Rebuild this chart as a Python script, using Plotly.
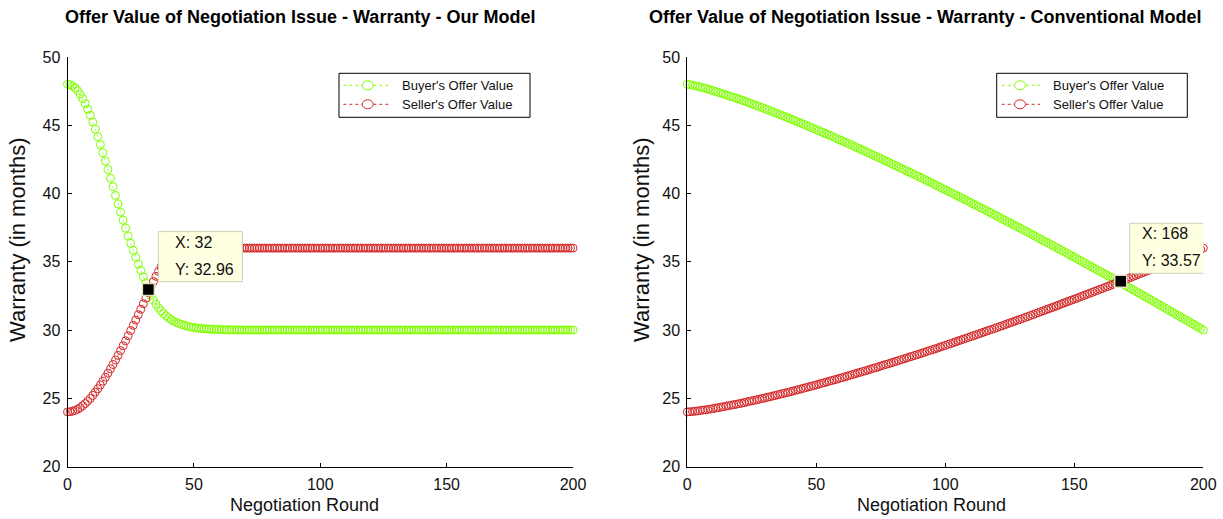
import plotly.graph_objects as go

# Negotiation rounds 0..200
rounds = list(range(201))

# "Our Model": buyer's and seller's warranty offers (months) per round
buyer_our = [
    48.00, 47.97, 47.88, 47.73, 47.53, 47.27, 46.95, 46.59, 46.18, 45.73,
    45.24, 44.71, 44.16, 43.58, 42.99, 42.37, 41.75, 41.12, 40.49, 39.86,
    39.24, 38.63, 38.04, 37.46, 36.89, 36.35, 35.83, 35.32, 34.83, 34.36,
    33.90, 33.43, 32.96, 32.55, 32.19, 31.89, 31.63, 31.41, 31.21, 31.04,
    30.89, 30.76, 30.65, 30.56, 30.48, 30.41, 30.35, 30.30, 30.25, 30.21,
    30.18, 30.15, 30.13, 30.11, 30.09, 30.08, 30.07, 30.06, 30.05, 30.04,
    30.03, 30.03, 30.02, 30.02, 30.01, 30.01, 30.01, 30.00, 30.00, 30.00,
    30.0, 30.0, 30.0, 30.0, 30.0, 30.0, 30.0, 30.0, 30.0, 30.0,
    30.0, 30.0, 30.0, 30.0, 30.0, 30.0, 30.0, 30.0, 30.0, 30.0,
    30.0, 30.0, 30.0, 30.0, 30.0, 30.0, 30.0, 30.0, 30.0, 30.0,
    30.0, 30.0, 30.0, 30.0, 30.0, 30.0, 30.0, 30.0, 30.0, 30.0,
    30.0, 30.0, 30.0, 30.0, 30.0, 30.0, 30.0, 30.0, 30.0, 30.0,
    30.0, 30.0, 30.0, 30.0, 30.0, 30.0, 30.0, 30.0, 30.0, 30.0,
    30.0, 30.0, 30.0, 30.0, 30.0, 30.0, 30.0, 30.0, 30.0, 30.0,
    30.0, 30.0, 30.0, 30.0, 30.0, 30.0, 30.0, 30.0, 30.0, 30.0,
    30.0, 30.0, 30.0, 30.0, 30.0, 30.0, 30.0, 30.0, 30.0, 30.0,
    30.0, 30.0, 30.0, 30.0, 30.0, 30.0, 30.0, 30.0, 30.0, 30.0,
    30.0, 30.0, 30.0, 30.0, 30.0, 30.0, 30.0, 30.0, 30.0, 30.0,
    30.0, 30.0, 30.0, 30.0, 30.0, 30.0, 30.0, 30.0, 30.0, 30.0,
    30.0, 30.0, 30.0, 30.0, 30.0, 30.0, 30.0, 30.0, 30.0, 30.0,
    30.0,
]
seller_our = [
    24.00, 24.01, 24.05, 24.11, 24.20, 24.31, 24.45, 24.61, 24.79, 24.99,
    25.21, 25.45, 25.70, 25.97, 26.25, 26.54, 26.84, 27.15, 27.47, 27.80,
    28.14, 28.49, 28.85, 29.21, 29.58, 29.96, 30.34, 30.73, 31.12, 31.52,
    31.92, 32.33, 32.74, 33.15, 33.55, 33.93, 34.29, 34.62, 34.91, 35.17,
    35.39, 35.57, 35.71, 35.82, 35.90, 35.95, 35.98, 35.99, 36.00, 36.00,
    36.0, 36.0, 36.0, 36.0, 36.0, 36.0, 36.0, 36.0, 36.0, 36.0,
    36.0, 36.0, 36.0, 36.0, 36.0, 36.0, 36.0, 36.0, 36.0, 36.0,
    36.0, 36.0, 36.0, 36.0, 36.0, 36.0, 36.0, 36.0, 36.0, 36.0,
    36.0, 36.0, 36.0, 36.0, 36.0, 36.0, 36.0, 36.0, 36.0, 36.0,
    36.0, 36.0, 36.0, 36.0, 36.0, 36.0, 36.0, 36.0, 36.0, 36.0,
    36.0, 36.0, 36.0, 36.0, 36.0, 36.0, 36.0, 36.0, 36.0, 36.0,
    36.0, 36.0, 36.0, 36.0, 36.0, 36.0, 36.0, 36.0, 36.0, 36.0,
    36.0, 36.0, 36.0, 36.0, 36.0, 36.0, 36.0, 36.0, 36.0, 36.0,
    36.0, 36.0, 36.0, 36.0, 36.0, 36.0, 36.0, 36.0, 36.0, 36.0,
    36.0, 36.0, 36.0, 36.0, 36.0, 36.0, 36.0, 36.0, 36.0, 36.0,
    36.0, 36.0, 36.0, 36.0, 36.0, 36.0, 36.0, 36.0, 36.0, 36.0,
    36.0, 36.0, 36.0, 36.0, 36.0, 36.0, 36.0, 36.0, 36.0, 36.0,
    36.0, 36.0, 36.0, 36.0, 36.0, 36.0, 36.0, 36.0, 36.0, 36.0,
    36.0, 36.0, 36.0, 36.0, 36.0, 36.0, 36.0, 36.0, 36.0, 36.0,
    36.0, 36.0, 36.0, 36.0, 36.0, 36.0, 36.0, 36.0, 36.0, 36.0,
    36.0,
]

# "Conventional Model": buyer's and seller's warranty offers (months) per round
buyer_conv = [
    48.00, 47.97, 47.93, 47.89, 47.85, 47.80, 47.75, 47.70, 47.65, 47.59,
    47.53, 47.47, 47.41, 47.35, 47.29, 47.23, 47.16, 47.10, 47.04, 46.98,
    46.92, 46.85, 46.78, 46.71, 46.64, 46.57, 46.50, 46.43, 46.36, 46.29,
    46.22, 46.15, 46.07, 46.00, 45.92, 45.85, 45.77, 45.70, 45.62, 45.55,
    45.47, 45.39, 45.31, 45.23, 45.15, 45.08, 45.00, 44.92, 44.84, 44.76,
    44.68, 44.60, 44.52, 44.43, 44.35, 44.27, 44.19, 44.11, 44.02, 43.94,
    43.86, 43.77, 43.69, 43.60, 43.52, 43.43, 43.34, 43.26, 43.17, 43.09,
    43.00, 42.91, 42.82, 42.73, 42.64, 42.56, 42.47, 42.38, 42.29, 42.20,
    42.11, 42.02, 41.93, 41.84, 41.75, 41.66, 41.57, 41.48, 41.39, 41.30,
    41.21, 41.12, 41.02, 40.93, 40.83, 40.74, 40.65, 40.55, 40.46, 40.36,
    40.27, 40.18, 40.08, 39.99, 39.89, 39.80, 39.70, 39.61, 39.51, 39.42,
    39.32, 39.22, 39.13, 39.03, 38.93, 38.84, 38.74, 38.64, 38.54, 38.45,
    38.35, 38.25, 38.15, 38.05, 37.95, 37.86, 37.76, 37.66, 37.56, 37.46,
    37.36, 37.26, 37.16, 37.06, 36.96, 36.86, 36.75, 36.65, 36.55, 36.45,
    36.35, 36.25, 36.15, 36.04, 35.94, 35.84, 35.74, 35.64, 35.53, 35.43,
    35.33, 35.23, 35.12, 35.02, 34.91, 34.81, 34.71, 34.60, 34.50, 34.39,
    34.29, 34.19, 34.08, 33.98, 33.87, 33.77, 33.66, 33.56, 33.45, 33.35,
    33.24, 33.13, 33.03, 32.92, 32.81, 32.71, 32.60, 32.49, 32.39, 32.28,
    32.17, 32.06, 31.95, 31.85, 31.74, 31.63, 31.52, 31.41, 31.31, 31.20,
    31.09, 30.98, 30.87, 30.76, 30.65, 30.55, 30.44, 30.33, 30.22, 30.11,
    30.00,
]
seller_conv = [
    24.00, 24.01, 24.03, 24.05, 24.07, 24.10, 24.13, 24.15, 24.18, 24.21,
    24.24, 24.28, 24.31, 24.35, 24.38, 24.42, 24.46, 24.49, 24.53, 24.56,
    24.60, 24.64, 24.68, 24.73, 24.77, 24.81, 24.85, 24.89, 24.94, 24.98,
    25.02, 25.07, 25.11, 25.16, 25.20, 25.25, 25.30, 25.34, 25.39, 25.43,
    25.48, 25.53, 25.58, 25.63, 25.68, 25.73, 25.78, 25.83, 25.88, 25.93,
    25.98, 26.03, 26.09, 26.14, 26.19, 26.25, 26.30, 26.35, 26.40, 26.46,
    26.51, 26.57, 26.62, 26.68, 26.73, 26.79, 26.85, 26.90, 26.96, 27.01,
    27.07, 27.13, 27.19, 27.24, 27.30, 27.36, 27.42, 27.48, 27.53, 27.59,
    27.65, 27.71, 27.77, 27.83, 27.89, 27.95, 28.01, 28.07, 28.13, 28.19,
    28.25, 28.31, 28.37, 28.44, 28.50, 28.56, 28.62, 28.68, 28.75, 28.81,
    28.87, 28.94, 29.00, 29.07, 29.13, 29.20, 29.26, 29.33, 29.39, 29.46,
    29.52, 29.59, 29.65, 29.72, 29.78, 29.85, 29.92, 29.98, 30.05, 30.11,
    30.18, 30.25, 30.31, 30.38, 30.45, 30.52, 30.58, 30.65, 30.72, 30.78,
    30.85, 30.92, 30.99, 31.06, 31.13, 31.20, 31.27, 31.34, 31.41, 31.48,
    31.55, 31.62, 31.69, 31.76, 31.83, 31.91, 31.98, 32.05, 32.12, 32.19,
    32.26, 32.33, 32.40, 32.48, 32.55, 32.62, 32.69, 32.76, 32.84, 32.91,
    32.98, 33.05, 33.13, 33.20, 33.27, 33.35, 33.42, 33.49, 33.57, 33.64,
    33.71, 33.79, 33.86, 33.94, 34.01, 34.09, 34.16, 34.24, 34.31, 34.39,
    34.46, 34.54, 34.61, 34.69, 34.77, 34.85, 34.92, 35.00, 35.08, 35.15,
    35.23, 35.31, 35.38, 35.46, 35.54, 35.62, 35.69, 35.77, 35.85, 35.92,
    36.00,
]

# Data tips (round index, series)
tip_our_round = 32
tip_our_value = buyer_our[tip_our_round]
tip_conv_round = 168
tip_conv_value = seller_conv[tip_conv_round]

titles = ["Offer Value of Negotiation Issue - Warranty - Our Model",
          "Offer Value of Negotiation Issue - Warranty - Conventional Model"]
x_title = "Negotiation Round"
y_title = "Warranty (in months)"
x_ticks = [0, 50, 100, 150, 200]
y_ticks = [20, 25, 30, 35, 40, 45, 50]
buyer_name = "Buyer's Offer Value"
seller_name = "Seller's Offer Value"

GREEN = "#80FF00"
RED = "#D42A2A"
FONT = "Liberation Sans, Arial, Helvetica, sans-serif"
W, H = 1223, 519

fig = go.Figure()


def add_series(xs, ys, name, color, xa, ya):
    fig.add_trace(go.Scatter(
        x=xs, y=ys, name=name, mode="lines+markers", showlegend=False,
        line=dict(color=color, width=0.6, dash="dot"),
        marker=dict(symbol="circle-open", size=8, color=color,
                    line=dict(color=color, width=1)),
        xaxis=xa, yaxis=ya, cliponaxis=False, hoverinfo="skip",
    ))


add_series(rounds, buyer_our, buyer_name, GREEN, "x", "y")
add_series(rounds, seller_our, seller_name, RED, "x", "y")
add_series(rounds, buyer_conv, buyer_name, GREEN, "x2", "y2")
add_series(rounds, seller_conv, seller_name, RED, "x2", "y2")

# Data-tip markers
for xr, yv, xa, ya in [(tip_our_round, tip_our_value, "x", "y"),
                       (tip_conv_round, tip_conv_value, "x2", "y2")]:
    fig.add_trace(go.Scatter(
        x=[xr], y=[yv], mode="markers", showlegend=False,
        marker=dict(symbol="square", size=12, color="black",
                    line=dict(color="#E6E2C0", width=1.5)),
        xaxis=xa, yaxis=ya, cliponaxis=False, hoverinfo="skip",
    ))

axis_common = dict(
    showline=True, linecolor="black", linewidth=1,
    ticks="inside", ticklen=4, tickcolor="black", tickwidth=1,
    showgrid=False, zeroline=False, mirror=False, automargin=False,
    ticklabelstandoff=3,
    tickfont=dict(family=FONT, size=16, color="#111"),
)
x_common = dict(axis_common, tickvals=x_ticks, range=[0, 200])
y_common = dict(axis_common, tickvals=y_ticks, range=[20, 50])

y_dom = [52.5 / H, 462 / H]
fig.update_layout(
    width=W, height=H, autosize=False,
    margin=dict(l=0, r=0, t=0, b=0, pad=0, autoexpand=False),
    paper_bgcolor="white", plot_bgcolor="white",
    font=dict(family=FONT, color="black"),
    xaxis=dict(x_common, domain=[67.5 / W, 573 / W], anchor="y"),
    yaxis=dict(y_common, domain=y_dom, anchor="x"),
    xaxis2=dict(x_common, domain=[687.3 / W, 1203.3 / W], anchor="y2"),
    yaxis2=dict(y_common, domain=y_dom, anchor="x2"),
    showlegend=False,
)

ann = []
shapes = []

# Chart titles
for cx, t in [(299.5, titles[0]), (924.5, titles[1])]:
    ann.append(dict(text="<b>%s</b>" % t, x=cx / W, y=1 - 17 / H,
                    xref="paper", yref="paper", showarrow=False,
                    xanchor="center", yanchor="middle",
                    font=dict(family=FONT, size=18, color="black")))
# Axis titles
for cx in (304, 931):
    ann.append(dict(text=x_title, x=cx / W, y=1 - 505 / H,
                    xref="paper", yref="paper", showarrow=False,
                    xanchor="center", yanchor="middle",
                    font=dict(family=FONT, size=18, color="#111")))
for cx in (17, 641):
    ann.append(dict(text=y_title, x=cx / W, y=1 - 240 / H, textangle=-90,
                    xref="paper", yref="paper", showarrow=False,
                    xanchor="center", yanchor="middle",
                    font=dict(family=FONT, size=22, color="#111")))

# Legend boxes: (box left, box right, sample start, sample end, marker x, text x)
legend_boxes = [(339, 530, 343.3, 388.3, 367.7, 400),
                (996.7, 1187.3, 1001.7, 1040, 1020, 1051)]
legend_rows = [(buyer_name, GREEN, 85.3), (seller_name, RED, 104.3)]
for bl, br, s0, s1, mx, tx in legend_boxes:
    shapes.append(dict(type="rect", xref="paper", yref="paper",
                       x0=bl / W, x1=br / W, y0=1 - 117.3 / H, y1=1 - 73.3 / H,
                       fillcolor="white", line=dict(color="black", width=1),
                       layer="above"))
    for name, color, ry in legend_rows:
        yy = 1 - ry / H
        shapes.append(dict(type="line", xref="paper", yref="paper",
                           x0=s0 / W, x1=s1 / W, y0=yy, y1=yy,
                           line=dict(color=color, width=1, dash="dot"),
                           layer="above"))
        shapes.append(dict(type="circle", xref="paper", yref="paper",
                           xsizemode="pixel", ysizemode="pixel",
                           xanchor=mx / W, yanchor=yy,
                           x0=-5.5, x1=5.5, y0=-4.5, y1=4.5,
                           fillcolor="white", line=dict(color=color, width=1),
                           layer="above"))
        ann.append(dict(text=name, x=tx / W, y=yy, xref="paper", yref="paper",
                        showarrow=False, xanchor="left", yanchor="middle",
                        font=dict(family=FONT, size=13, color="#111")))

# Data-tip boxes and texts, placed in pixels relative to the tip point
for xr, yv, xa, ya, box, txt_dx, row_dy in [
        (tip_our_round, tip_our_value, "x", "y", (10, 94, 8, 58), 25, (47, 20)),
        (tip_conv_round, tip_conv_value, "x2", "y2", (9, 84, 8, 58), 19, (48, 21))]:
    shapes.append(dict(type="rect", xref=xa, yref=ya,
                       xsizemode="pixel", ysizemode="pixel",
                       xanchor=xr, yanchor=yv,
                       x0=box[0], x1=box[1], y0=box[2], y1=box[3],
                       fillcolor="#FFFFE1", line=dict(color="#CFCFB8", width=1),
                       layer="above"))
    for label, dy in [("X: %d" % xr, row_dy[0]), ("Y: %.2f" % yv, row_dy[1])]:
        ann.append(dict(text=label, x=xr, y=yv, xref=xa, yref=ya,
                        showarrow=False, xanchor="left", yanchor="middle",
                        xshift=txt_dx, yshift=dy,
                        font=dict(family=FONT, size=16, color="#111")))

fig.update_layout(annotations=ann, shapes=shapes)
fig.write_html("out.html")
